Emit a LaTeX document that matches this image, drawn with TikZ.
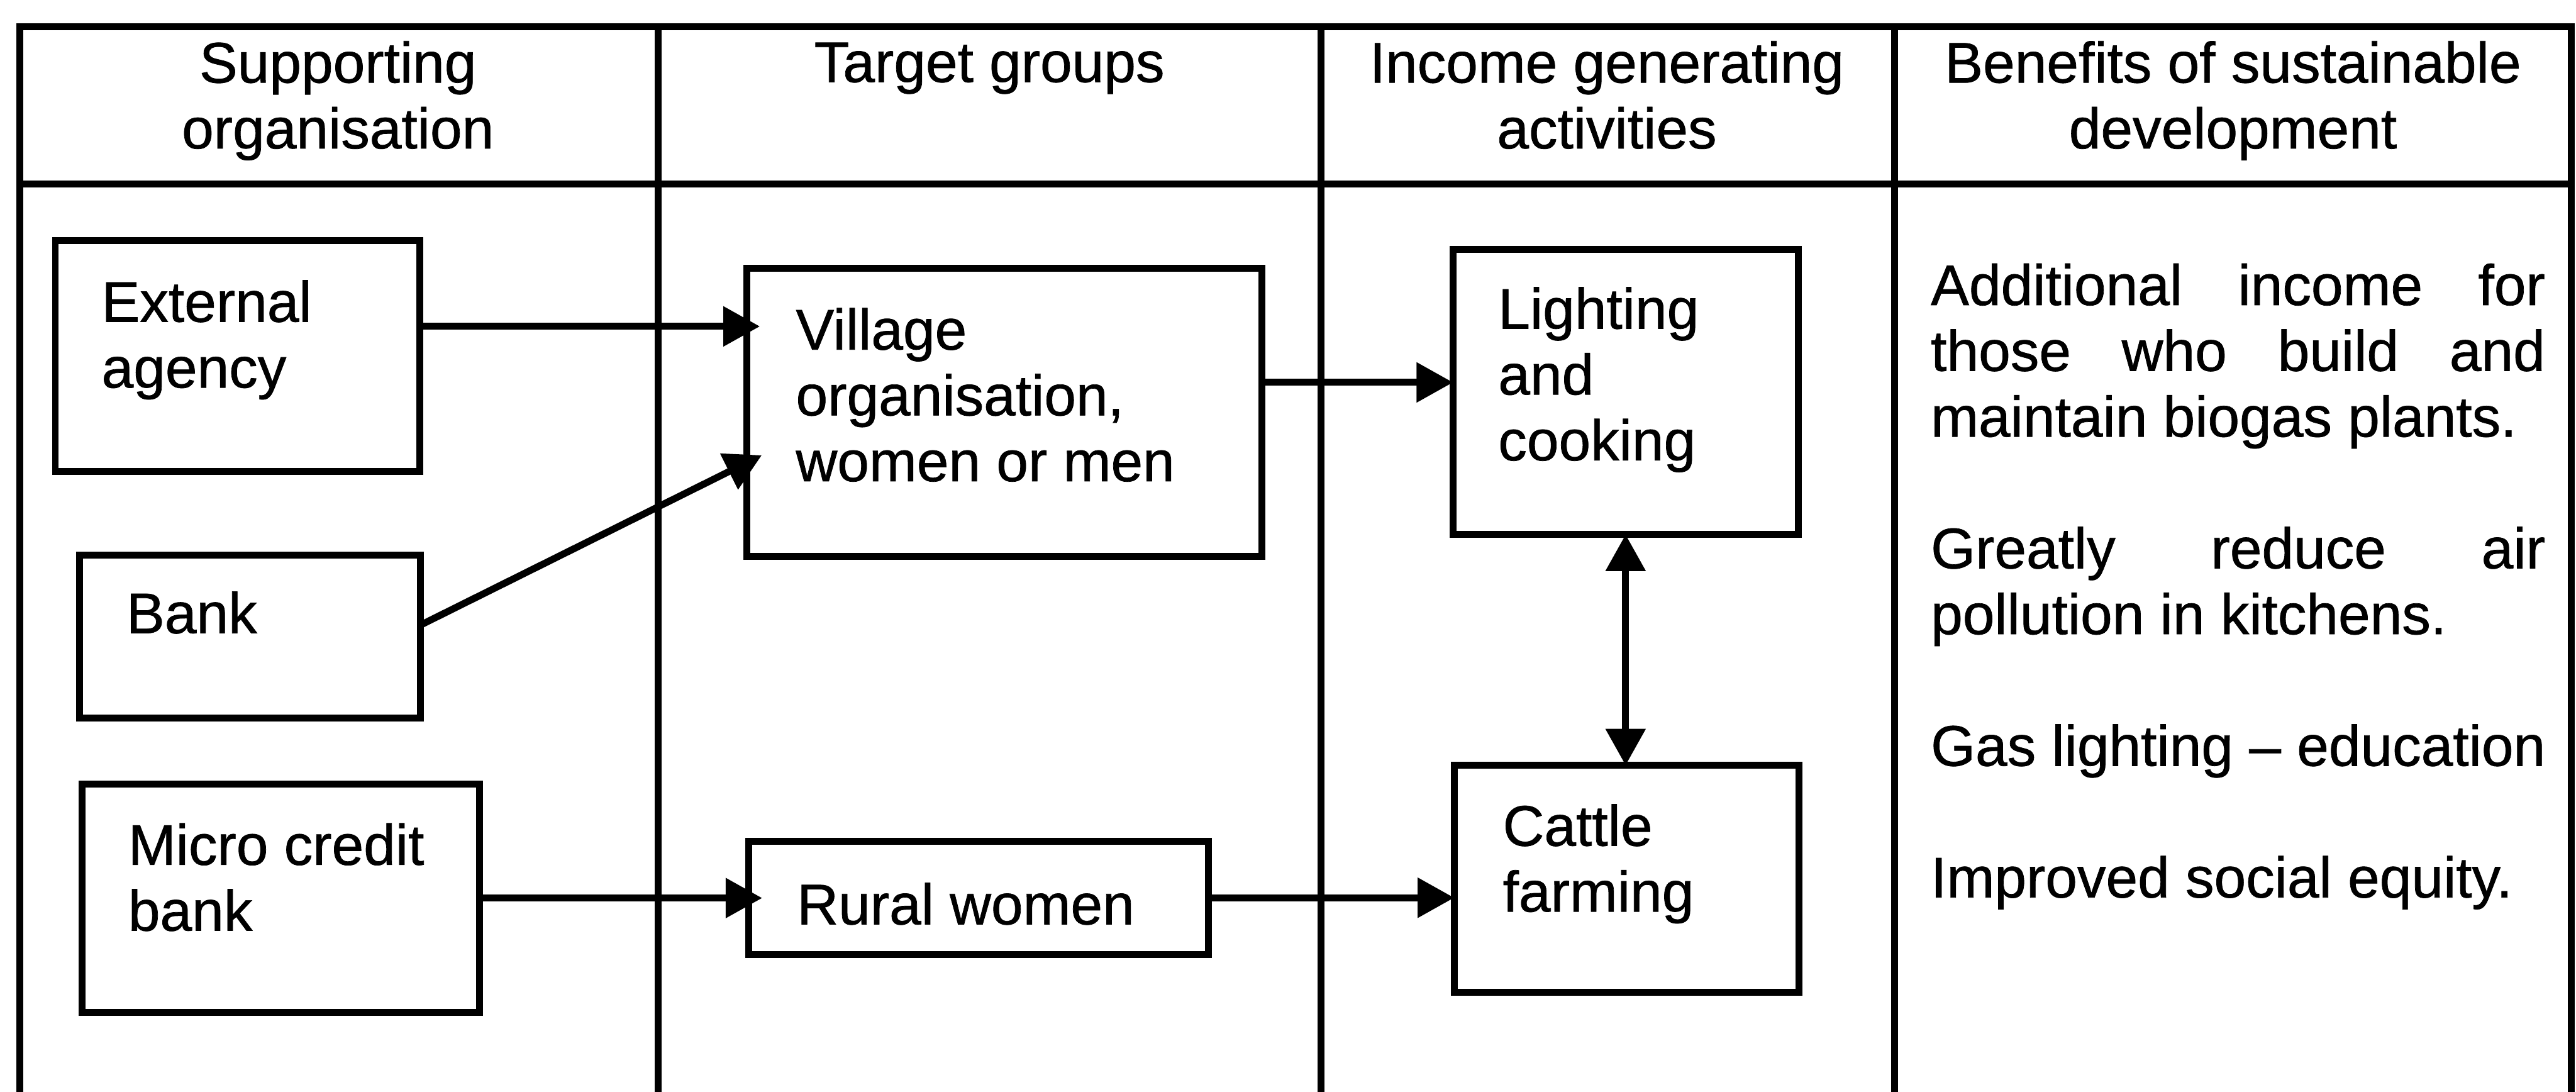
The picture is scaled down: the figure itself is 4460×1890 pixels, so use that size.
\documentclass[tikz,border=0pt]{standalone}
\usepackage{fontspec}
\setmainfont[UprightFeatures={FakeBold=0.8}]{Liberation Sans}
\usetikzlibrary{arrows.meta}

% text size and line spacing used throughout the chart
\newcommand\diagfont{\fontsize{28.2pt}{32.4pt}\selectfont}
% stacked lines, left-aligned or centred, baseline on the first line
\newcommand\linesl[1]{\begin{tabular}[t]{@{}l@{}}#1\end{tabular}}
\newcommand\linesc[1]{\begin{tabular}[t]{@{}c@{}}#1\end{tabular}}
% a fully justified line of the benefits column
\newcommand\fullline[1]{\makebox[10.63cm][s]{#1}}

\begin{document}
\begin{tikzpicture}[x=0.01cm, y=-0.01cm,
  rule/.style={line width=3.4pt, line join=miter},
  box/.style={draw, line width=3.4pt, rectangle, inner sep=0pt, outer sep=0pt},
  txt/.style={inner sep=0pt, outer sep=0pt, font=\diagfont, anchor=base west},
  head/.style={inner sep=0pt, outer sep=0pt, font=\diagfont, anchor=base},
  flow/.style={line width=3.4pt, -{Triangle[length=18pt,width=19pt]}},
  flowtwo/.style={line width=3.4pt, {Triangle[length=18pt,width=19pt]}-{Triangle[length=18pt,width=19pt]}}
]
\useasboundingbox (0,0) rectangle (4460,1890);

% table frame, open at the bottom
\draw[rule] (34,1890) -- (34,46) -- (4452,46) -- (4452,1890);
\draw[rule] (34,318) -- (4452,318);
\draw[rule] (1140,46) -- (1140,1890);
\draw[rule] (2287,46) -- (2287,1890);
\draw[rule] (3280,46) -- (3280,1890);

% column headings
\node[head] (h1) at (585,143) {\linesc{Supporting\\organisation}};
\node[head] (h2) at (1713,142) {Target groups};
\node[head] (h3) at (2782,143) {\linesc{Income generating\\activities}};
\node[head] (h4) at (3866,143) {\linesc{Benefits of sustainable\\development}};

% supporting organisations
\node[box, minimum width=6.31cm, minimum height=3.99cm] (ext) at (411.5,616.5) {};
\node[txt] (extt) at (176,557) {\linesl{External\\agency}};
\node[box, minimum width=5.90cm, minimum height=2.82cm] (bank) at (433,1102) {};
\node[txt] (bankt) at (219,1096) {Bank};
\node[box, minimum width=6.88cm, minimum height=3.95cm] (micro) at (486,1554.5) {};
\node[txt] (microt) at (222,1497) {\linesl{Micro credit\\bank}};

% target groups
\node[box, minimum width=8.92cm, minimum height=4.98cm] (vil) at (1739,714) {};
\node[txt] (vilt) at (1378,605) {\linesl{Village\\organisation,\\women or men}};
\node[box, minimum width=7.95cm, minimum height=1.96cm] (rural) at (1694.5,1554) {};
\node[txt] (ruralt) at (1380,1600) {Rural women};

% income generating activities
\node[box, minimum width=5.97cm, minimum height=4.93cm] (light) at (2814.5,678.5) {};
\node[txt] (lightt) at (2594,569) {\linesl{Lighting\\and\\cooking}};
\node[box, minimum width=5.96cm, minimum height=3.93cm] (cattle) at (2816,1521.5) {};
\node[txt] (cattlet) at (2602,1464) {\linesl{Cattle\\farming}};

% benefits
\node[txt] (ben) at (3343,528) {\linesl{%
  \fullline{Additional income for}\\
  \fullline{those who build and}\\
  maintain biogas plants.\\
  \\
  \fullline{Greatly reduce air}\\
  pollution in kitchens.\\
  \\
  Gas lighting – education\\
  \\
  Improved social equity.}};

% connectors
\draw[flow, shorten >=-6.5pt] ([yshift=14.65pt]ext.east) -- ([yshift=14.65pt]ext.east -| vil.west);
\draw[flow, shorten >=-8.3pt] ([yshift=5.7pt]bank.east) -- ([yshift=-24.75pt]vil.west);
\draw[flow, shorten >=-6.5pt] (micro.east) -- (micro.east -| rural.west);
\draw[flow] ([yshift=14.8pt]vil.east) -- ([yshift=14.8pt]vil.east -| light.west);
\draw[flow] (rural.east) -- (rural.east -| cattle.west);
\draw[flowtwo] (light.south) -- (light.south |- cattle.north);
\end{tikzpicture}
\end{document}
